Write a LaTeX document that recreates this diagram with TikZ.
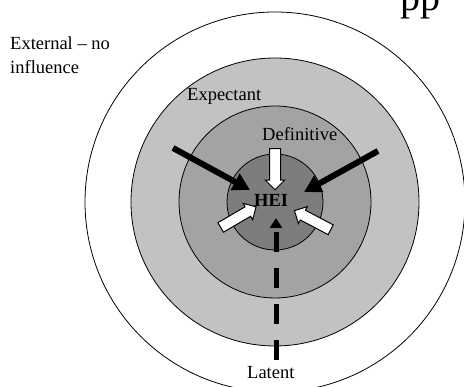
\documentclass[tikz,border=0pt]{standalone}
\usepackage{fontspec}
\setmainfont{Liberation Serif}
\usetikzlibrary{arrows.meta,shapes.arrows,calc}

\definecolor{ringexp}{gray}{0.76}
\definecolor{ringdef}{gray}{0.64}
\definecolor{ringcore}{gray}{0.49}

\tikzset{
  ring/.style={circle, draw=black, line width=0.8pt, inner sep=0pt, minimum size=#1},
  lbl/.style={inner sep=0pt, anchor=base west, font=\fontsize{18.5}{24}\selectfont},
  blackarrow/.style={line width=6pt, -{Triangle[length=17pt,width=18pt]}},
  whitearrow/.style={single arrow, draw=black, fill=white, line width=1pt,
    inner xsep=0pt, inner ysep=5pt, single arrow head extend=4pt,
    single arrow tip angle=90, minimum height=41pt},
  latentline/.style={line width=5pt, dash pattern=on 20pt off 16pt,
    -{Triangle[length=10pt,width=12pt]}}
}

\begin{document}
\begin{tikzpicture}[x=1pt,y=1pt]
\useasboundingbox (0,0) rectangle (464,387);
\begin{scope}
\clip (0,0) rectangle (464,387);
% nested stakeholder rings
\node[ring=380pt, fill=white]    (outer) at (275,185) {};
\node[ring=288pt, fill=ringexp]  (expect) at (275,185) {};
\node[ring=192pt, fill=ringdef]  (defin) at (275,185) {};
\node[ring=96pt,  fill=ringcore] (core) at (275,185) {};
% running head of the page above
\node[inner sep=0pt, anchor=base west, font=\fontsize{40}{40}\selectfont] (runhead) at (400,376) {pp};
\end{scope}

% labels
\node[lbl, anchor=north west, align=left] (external) at (10,350.5) {External – no\\influence};
\node[lbl] (lexp) at (187,286) {Expectant};
\node[lbl] (ldef) at (262,246) {Definitive};
\node[lbl, font=\fontsize{18.5}{24}\selectfont\bfseries] (hei) at (254,180) {HEI};
\node[lbl] (latent) at (247,8) {Latent};

% arrow end points
\coordinate (blt) at (173,239);
\coordinate (blh) at (250,197);
\coordinate (brt) at (378,236);
\coordinate (brh) at (304,195);
\coordinate (wtt) at (275,241);
\coordinate (wth) at (275,200);
\coordinate (wlt) at (218,158);
\coordinate (wlh) at (254,179);
\coordinate (wrt) at (333,156);
\coordinate (wrh) at (297,175);
\coordinate (dls) at (276,27);
\coordinate (dlh) at (276,169);

% black arrows from the expectant ring
\draw[blackarrow] (blt) -- (blh);
\draw[blackarrow] (brt) -- (brh);

% white arrows from the definitive ring
\node[whitearrow, rotate=-90]  (wtop)   at ($(wtt)!0.5!(wth)$) {};
\node[whitearrow, rotate=30.3] (wleft)  at ($(wlt)!0.5!(wlh)$) {};
\node[whitearrow, rotate=152.2](wright) at ($(wrt)!0.5!(wrh)$) {};

% dashed arrow from the latent stakeholders
\draw[latentline] (dls) -- (dlh);
\end{tikzpicture}
\end{document}
